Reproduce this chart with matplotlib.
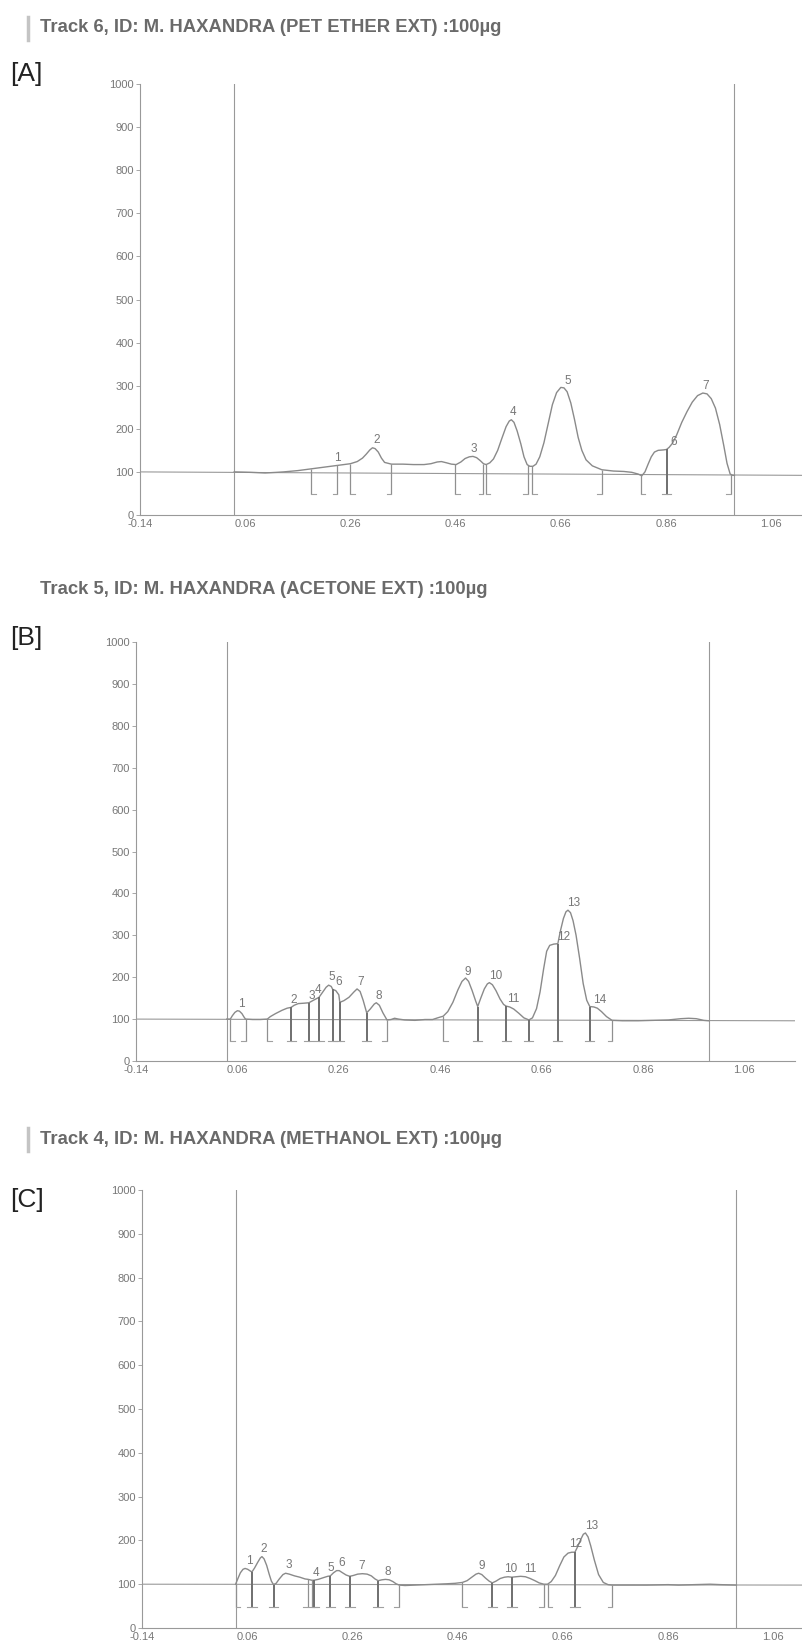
import numpy as np
import matplotlib
matplotlib.use("Agg")
import matplotlib.pyplot as plt

plt.rcParams['font.family'] = ['Liberation Sans', 'DejaVu Sans']

# ---- panel A : pet ether extract (Rf, AU) ----
a_rf = [0.039, 0.07, 0.098, 0.12, 0.133, 0.16, 0.185, 0.21, 0.235, 0.26, 0.273, 0.283, 0.290,
        0.297, 0.302, 0.307, 0.313, 0.319, 0.325, 0.338, 0.36, 0.38, 0.40, 0.413, 0.425, 0.433,
        0.443, 0.452, 0.461, 0.470, 0.478, 0.486, 0.493, 0.500, 0.507, 0.513, 0.518, 0.525,
        0.532, 0.540, 0.548, 0.556, 0.562, 0.566, 0.571, 0.577, 0.584, 0.590, 0.596, 0.601,
        0.607, 0.613, 0.620, 0.628, 0.636, 0.644, 0.652, 0.660, 0.666, 0.672, 0.679, 0.686,
        0.693, 0.700, 0.708, 0.720, 0.738, 0.760, 0.780, 0.795, 0.807, 0.814, 0.820, 0.826,
        0.832, 0.838, 0.845, 0.855, 0.861, 0.866, 0.872, 0.880, 0.890, 0.900, 0.910, 0.920,
        0.930, 0.938, 0.946, 0.954, 0.962, 0.970, 0.976, 0.982, 0.987, 0.99]
a_au = [100, 99, 97.5, 99, 100, 103, 107, 111, 115, 119, 124, 132, 141,
        151, 156, 154, 146, 132, 122, 118, 118, 117, 117, 119, 123, 124,
        121, 118, 117, 123, 131, 135, 136, 133, 126, 119, 117, 121,
        130, 150, 178, 205, 218, 221, 215, 195, 165, 135, 117, 113,
        113, 118, 135, 168, 212, 256, 284, 296, 295, 286, 260, 222,
        180, 150, 128, 114, 105, 102, 101, 99, 95, 91, 100, 118,
        135, 146, 150, 151, 152, 157, 166, 185, 215, 240, 262, 277,
        283, 281, 270, 248, 210, 160, 120, 95, 92, 92]
a_bounds = [0.185, 0.235, 0.26, 0.338, 0.459, 0.513, 0.517, 0.598, 0.605, 0.738, 0.812, 0.861, 0.983]
a_feet = [1, -1, 1, -1, 1, -1, 1, -1, 1, -1, 1, 0, -1]
a_peak_rf = [0.235, 0.310, 0.494, 0.570, 0.673, 0.874, 0.936]
a_peak_au = [115, 156, 136, 221, 295, 152, 283]
a_base = [100, 92]

# ---- panel B : acetone extract ----
b_rf = [0.039, 0.046, 0.050, 0.055, 0.060, 0.064, 0.069, 0.073, 0.076, 0.09, 0.105, 0.119, 0.125,
        0.135, 0.148, 0.158, 0.166, 0.172, 0.180, 0.192, 0.201, 0.210, 0.221, 0.228, 0.235,
        0.240, 0.245, 0.248, 0.254, 0.260, 0.262, 0.270, 0.280, 0.290, 0.296, 0.302, 0.308,
        0.315, 0.322, 0.330, 0.334, 0.340, 0.347, 0.355, 0.363, 0.370, 0.378, 0.39, 0.41,
        0.43, 0.445, 0.455, 0.466, 0.475, 0.485, 0.495, 0.503, 0.510, 0.516, 0.523, 0.530,
        0.534, 0.540, 0.547, 0.553, 0.557, 0.563, 0.570, 0.578, 0.585, 0.590, 0.597, 0.605,
        0.615, 0.625, 0.635, 0.642, 0.650, 0.657, 0.664, 0.670, 0.676, 0.684, 0.692, 0.697,
        0.703, 0.708, 0.712, 0.717, 0.722, 0.728, 0.735, 0.742, 0.749, 0.755, 0.763, 0.770,
        0.778, 0.788, 0.799, 0.82, 0.85, 0.88, 0.91, 0.935, 0.950, 0.965, 0.980, 0.99]
b_au = [100, 100, 108, 116, 120, 119, 113, 105, 100, 99, 99, 100, 106,
        113, 121, 126, 128, 133, 137, 138, 139, 145, 152, 164, 176,
        181, 178, 171, 168, 158, 140, 144, 152, 165, 172, 166, 145,
        115, 124, 136, 139, 133, 115, 98, 99, 102, 100, 98, 97,
        99, 99, 103, 107, 118, 140, 170, 190, 198, 190, 168, 143,
        130, 150, 172, 184, 187, 182, 168, 148, 135, 131, 129, 124,
        114, 103, 98, 103, 125, 165, 220, 262, 276, 279, 280, 310,
        340, 356, 360, 354, 335, 300, 245, 185, 145, 130, 129, 126,
        118, 106, 97, 96, 96, 97, 98, 101, 102, 101, 97, 96]
b_bounds = [0.046, 0.076, 0.119, 0.166, 0.201, 0.221, 0.248, 0.262, 0.315, 0.355,
            0.466, 0.534, 0.590, 0.635, 0.692, 0.755, 0.799]
b_feet = [1, -1, 1, 0, 0, 0, 0, 0, 0, -1, 1, 0, 0, 0, 0, 0, -1]
b_peak_rf = [0.067, 0.172, 0.206, 0.218, 0.246, 0.259, 0.303, 0.339, 0.515, 0.570, 0.604,
             0.704, 0.724, 0.774]
b_peak_au = [119, 129, 139, 153, 183, 171, 171, 139, 196, 186, 131, 280, 361, 129]
b_base = [100, 96]

# ---- panel C : methanol extract ----
c_rf = [0.038, 0.042, 0.047, 0.052, 0.056, 0.061, 0.066, 0.069, 0.074, 0.080, 0.085, 0.088,
        0.092, 0.097, 0.102, 0.106, 0.110, 0.115, 0.121, 0.128, 0.133, 0.140, 0.150, 0.160,
        0.170, 0.176, 0.183, 0.187, 0.195, 0.205, 0.213, 0.218, 0.224, 0.230, 0.235, 0.240,
        0.248, 0.255, 0.262, 0.270, 0.279, 0.288, 0.296, 0.303, 0.309, 0.316, 0.323, 0.330,
        0.337, 0.343, 0.349, 0.36, 0.38, 0.40, 0.42, 0.44, 0.455, 0.469, 0.478, 0.487, 0.495,
        0.500, 0.506, 0.513, 0.520, 0.526, 0.533, 0.541, 0.549, 0.556, 0.563, 0.571, 0.580,
        0.589, 0.598, 0.607, 0.615, 0.624, 0.631, 0.638, 0.646, 0.654, 0.662, 0.670, 0.677,
        0.683, 0.688, 0.694, 0.699, 0.703, 0.708, 0.713, 0.720, 0.728, 0.737, 0.746, 0.754,
        0.78, 0.82, 0.86, 0.88, 0.91, 0.94, 0.96, 0.99]
c_au = [100, 112, 126, 134, 136, 134, 130, 128, 137, 150, 160, 163,
        158, 143, 122, 107, 99, 102, 112, 122, 125, 123, 119, 116,
        112, 111, 109, 109, 111, 115, 118, 119, 126, 131, 131, 127,
        121, 118, 120, 123, 124, 123, 119, 112, 108, 110, 111, 110,
        106, 101, 98, 97, 98, 99, 100, 101, 102, 104, 108, 116, 123,
        125, 122, 114, 107, 103, 107, 113, 116, 117, 116, 117, 118,
        117, 113, 108, 103, 100, 100, 106, 120, 142, 162, 171, 173,
        173, 185, 202, 214, 217, 208, 188, 155, 122, 104, 99, 98,
        98, 98, 99, 98, 99, 100, 99, 98]
c_bounds = [0.038, 0.069, 0.110, 0.176, 0.183, 0.187, 0.218, 0.255, 0.309, 0.349,
            0.469, 0.526, 0.563, 0.624, 0.631, 0.683, 0.754]
c_feet = [1, 0, 0, -1, 1, 0, 0, 0, 0, -1, 1, 0, 0, -1, 1, 0, -1]
c_peak_rf = [0.064, 0.092, 0.139, 0.191, 0.218, 0.239, 0.278, 0.328, 0.505, 0.561, 0.598,
             0.685, 0.714]
c_peak_au = [137, 164, 127, 109, 119, 132, 125, 111, 125, 117, 117, 175, 217]
c_base = [100, 98]

titles = ["Track 6, ID: M. HAXANDRA (PET ETHER EXT) :100\u00b5g",
          "Track 5, ID: M. HAXANDRA (ACETONE EXT) :100\u00b5g",
          "Track 4, ID: M. HAXANDRA (METHANOL EXT) :100\u00b5g"]
tags = ["[A]", "[B]", "[C]"]
xticks = [-0.14, 0.06, 0.26, 0.46, 0.66, 0.86, 1.06]
yticks = list(range(0, 1001, 100))
front_lines = [0.039, 0.99]

W, H = 802, 1645
fig = plt.figure(figsize=(W / 100, H / 100), dpi=100)
fig.patch.set_facecolor('white')

LINE = '#8a8a8a'
TXT = '#777777'


def px_axes(left, bottom, right, top):
    return fig.add_axes([left / W, 1 - bottom / H, (right - left) / W, (bottom - top) / H])


def draw_panel(ax, rf, au, bounds, feet, peak_rf, peak_au, base, xmax):
    ax.set_xlim(-0.14, xmax)
    ax.set_ylim(0, 1000)
    for s in ['top', 'right']:
        ax.spines[s].set_visible(False)
    for s in ['left', 'bottom']:
        ax.spines[s].set_color('#999999')
        ax.spines[s].set_linewidth(0.8)
    ax.set_xticks(xticks)
    ax.set_xticklabels([f"{t:.2f}" for t in xticks])
    ax.set_yticks(yticks)
    ax.tick_params(axis='x', length=0, pad=3, labelsize=8, labelcolor=TXT)
    ax.tick_params(axis='y', length=3, width=0.6, color='#999999', pad=1.5,
                   labelsize=8, labelcolor=TXT)

    # application position and solvent front
    for f in front_lines:
        ax.axvline(f, color='#999999', lw=0.8)
    # baseline
    ax.plot([-0.14, xmax], base, color='#999999', lw=0.8)
    # densitogram
    ax.plot(rf, au, color=LINE, lw=1.0)

    # peak start / end markers
    tops = np.interp(bounds, rf, au)
    foot = 0.009
    for x, t, d in zip(bounds, tops, feet):
        lw = 1.4 if d == 0 else 0.9
        col = '#6f6f6f' if d == 0 else '#909090'
        ax.plot([x, x], [48, t], color=col, lw=lw, solid_capstyle='butt')
        if d >= 0:
            ax.plot([x, x + foot], [48, 48], color='#a0a0a0', lw=0.8)
        if d <= 0:
            ax.plot([x - foot, x], [48, 48], color='#a0a0a0', lw=0.8)

    for i, (x, y) in enumerate(zip(peak_rf, peak_au)):
        ax.text(x, y + 17, str(i + 1), ha='center', va='center', fontsize=8.5, color=TXT)


axA = px_axes(140, 515, 802, 84)
draw_panel(axA, a_rf, a_au, a_bounds, a_feet, a_peak_rf, a_peak_au, a_base, -0.14 + 662 / 526)
axB = px_axes(136, 1061, 795, 642)
draw_panel(axB, b_rf, b_au, b_bounds, b_feet, b_peak_rf, b_peak_au, b_base, -0.14 + 659 / 507)
axC = px_axes(142, 1628, 802, 1190)
draw_panel(axC, c_rf, c_au, c_bounds, c_feet, c_peak_rf, c_peak_au, c_base, -0.14 + 660 / 526)

# titles and panel tags
title_y = [28, 590, 1139]
tag_y = [74, 638, 1200]
has_bar = [True, False, True]
for t, ty, tg, gy, bar in zip(titles, title_y, tags, tag_y, has_bar):
    fig.text(40 / W, 1 - ty / H, t, fontsize=13.3, fontweight='bold', color='#6a6a6a',
             ha='left', va='center')
    fig.text(10 / W, 1 - gy / H, tg, fontsize=19, color='#222222', ha='left', va='center')
    if bar:
        fig.add_artist(plt.Line2D([28 / W, 28 / W], [1 - (ty - 11) / H, 1 - (ty + 12) / H],
                                  color='#c4c4c4', lw=2.5))

fig.savefig('out.png', dpi=100, facecolor='white')
